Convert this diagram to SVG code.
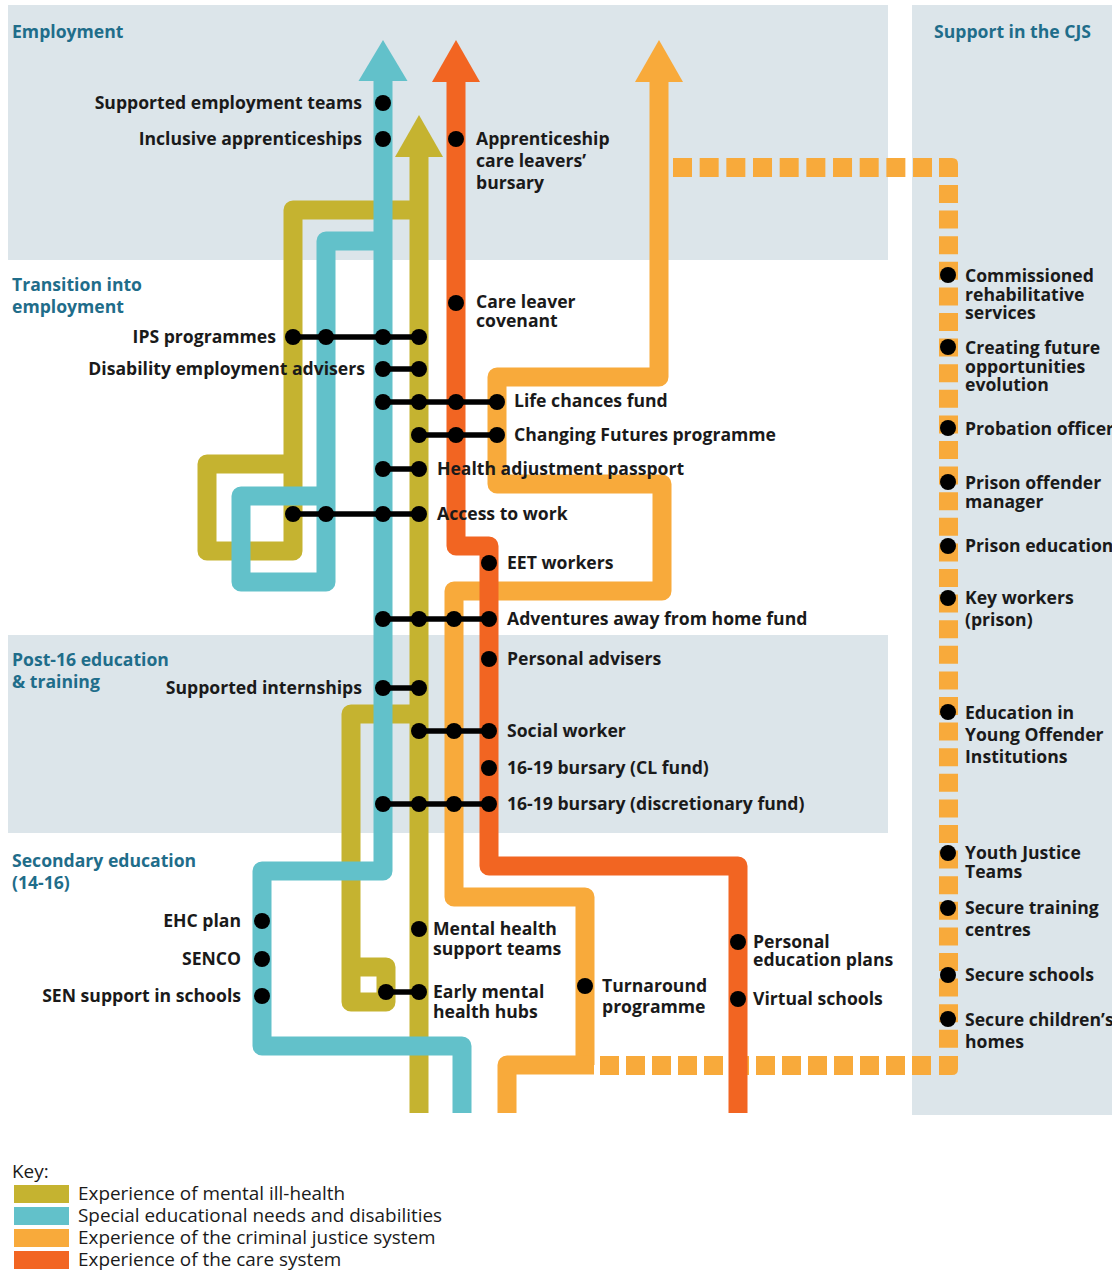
<svg xmlns="http://www.w3.org/2000/svg" width="1112" height="1270" viewBox="0 0 1112 1270">
<style>
  .band{fill:#dce5ea}
  .route{fill:none;stroke-width:19;stroke-linejoin:round;stroke-linecap:butt}
  .mh{stroke:#c5b330}
  .sen{stroke:#62c1ca}
  .cjs{stroke:#f8aa3b}
  .care{stroke:#f26522}
  .mhf{fill:#c5b330}
  .senf{fill:#62c1ca}
  .cjsf{fill:#f8aa3b}
  .caref{fill:#f26522}
  .bar{stroke:#000;stroke-width:5.5;stroke-linecap:round}
  .dot{fill:#000}
  text{font-family:"Open Sans","Liberation Sans",sans-serif;font-size:17.6px;font-weight:700;fill:#1a1a1a}
  .ttl{fill:#1f6d8a}
  .key{font-weight:400;font-size:18.9px}
</style>

<!-- stage bands -->
<g id="bands">
  <rect class="band" x="8" y="5" width="880" height="255"/>
  <rect class="band" x="8" y="635" width="880" height="198"/>
  <rect class="band" x="912" y="5" width="200" height="1110"/>
</g>

<!-- routes -->
<g id="connectors">
  <!-- mental ill-health -->
  <path class="route mh" d="M419,157 V1113"/>
  <path class="route mh" d="M419,210 H293 V551 H207 V464 H293"/>
  <path class="route mh" d="M419,714 H351 V1002 H386 V967 H351"/>
  <polygon class="mhf" points="419,115 443,157 395,157"/>
  <!-- special educational needs -->
  <path class="route sen" d="M383,80 V871 H262 V1046 H462 V1113"/>
  <path class="route sen" d="M383,241 H326 V582 H241 V496 H326"/>
  <polygon class="senf" points="383,40 407.5,81 358.5,81"/>
  <!-- criminal justice system -->
  <path class="route cjs" d="M659,80 V377 H497 V484 H662 V591 H454 V897 H585 V1065"/>
  <path class="route cjs" d="M507,1113 V1065 H594"/>
  <polygon class="cjsf" points="659,40 683,82 635,82"/>
  <g id="cjs-dotted" class="cjsf">
    <line x1="673" y1="167.5" x2="932" y2="167.5" stroke="#f8aa3b" stroke-width="19" stroke-dasharray="19 7.67"/>
    <path d="M939,158 H952 Q958,158 958,164 V177 H939 Z"/>
    <line x1="948.5" y1="185" x2="948.5" y2="1048" stroke="#f8aa3b" stroke-width="19" stroke-dasharray="18 7.6"/>
    <path d="M939,1056 H958 V1069 Q958,1075 952,1075 H939 Z"/>
    <line x1="600" y1="1065.5" x2="932" y2="1065.5" stroke="#f8aa3b" stroke-width="19" stroke-dasharray="19 7"/>
  </g>
  <!-- care system -->
  <path class="route care" d="M456,80 V546 H489 V866 H738 V1113"/>
  <polygon class="caref" points="456,40 480,82 432,82"/>

  <!-- interchange bars -->
  <line class="bar" x1="293" y1="337" x2="419" y2="337"/>
  <line class="bar" x1="383" y1="369" x2="419" y2="369"/>
  <line class="bar" x1="383" y1="402" x2="497" y2="402"/>
  <line class="bar" x1="419" y1="435" x2="497" y2="435"/>
  <line class="bar" x1="383" y1="469" x2="419" y2="469"/>
  <line class="bar" x1="293" y1="514" x2="419" y2="514"/>
  <line class="bar" x1="383" y1="619" x2="489" y2="619"/>
  <line class="bar" x1="383" y1="688" x2="419" y2="688"/>
  <line class="bar" x1="419" y1="731" x2="489" y2="731"/>
  <line class="bar" x1="383" y1="804" x2="489" y2="804"/>
  <line class="bar" x1="386" y1="992" x2="419" y2="992"/>
</g>

<!-- stage titles -->
<g id="titles">
  <text class="ttl" x="12" y="38">Employment</text>
  <text class="ttl" x="12" y="291">Transition into<tspan x="12" dy="22">employment</tspan></text>
  <text class="ttl" x="12" y="666">Post-16 education<tspan x="12" dy="22">&amp; training</tspan></text>
  <text class="ttl" x="12" y="867">Secondary education<tspan x="12" dy="22">(14-16)</tspan></text>
  <text class="ttl" x="934" y="38">Support in the CJS</text>
</g>

<!-- stops -->
<g id="supported-employment-teams"><circle class="dot" cx="383" cy="103" r="8"/><text x="362" y="109" text-anchor="end">Supported employment teams</text></g>
<g id="inclusive-apprenticeships"><circle class="dot" cx="383" cy="139" r="8"/><text x="362" y="145" text-anchor="end">Inclusive apprenticeships</text></g>
<g id="apprenticeship-bursary"><circle class="dot" cx="456" cy="139" r="8"/><text x="476" y="145">Apprenticeship<tspan x="476" dy="22">care leavers’</tspan><tspan x="476" dy="22">bursary</tspan></text></g>
<g id="care-leaver-covenant"><circle class="dot" cx="456" cy="303" r="8"/><text x="476" y="308">Care leaver<tspan x="476" dy="18.5">covenant</tspan></text></g>
<g id="ips-programmes"><circle class="dot" cx="293" cy="337" r="8"/><circle class="dot" cx="326" cy="337" r="8"/><circle class="dot" cx="383" cy="337" r="8"/><circle class="dot" cx="419" cy="337" r="8"/><text x="276" y="343" text-anchor="end">IPS programmes</text></g>
<g id="disability-employment-advisers"><circle class="dot" cx="383" cy="369" r="8"/><circle class="dot" cx="419" cy="369" r="8"/><text x="365" y="375" text-anchor="end">Disability employment advisers</text></g>
<g id="life-chances-fund"><circle class="dot" cx="383" cy="402" r="8"/><circle class="dot" cx="419" cy="402" r="8"/><circle class="dot" cx="456" cy="402" r="8"/><circle class="dot" cx="497" cy="402" r="8"/><text x="514" y="407">Life chances fund</text></g>
<g id="changing-futures"><circle class="dot" cx="419" cy="435" r="8"/><circle class="dot" cx="456" cy="435" r="8"/><circle class="dot" cx="497" cy="435" r="8"/><text x="514" y="441">Changing Futures programme</text></g>
<g id="health-adjustment-passport"><circle class="dot" cx="383" cy="469" r="8"/><circle class="dot" cx="419" cy="469" r="8"/><text x="437" y="475">Health adjustment passport</text></g>
<g id="access-to-work"><circle class="dot" cx="293" cy="514" r="8"/><circle class="dot" cx="326" cy="514" r="8"/><circle class="dot" cx="383" cy="514" r="8"/><circle class="dot" cx="419" cy="514" r="8"/><text x="437" y="520">Access to work</text></g>
<g id="eet-workers"><circle class="dot" cx="489" cy="563" r="8"/><text x="507" y="569">EET workers</text></g>
<g id="adventures-fund"><circle class="dot" cx="383" cy="619" r="8"/><circle class="dot" cx="419" cy="619" r="8"/><circle class="dot" cx="454" cy="619" r="8"/><circle class="dot" cx="489" cy="619" r="8"/><text x="507" y="625">Adventures away from home fund</text></g>
<g id="personal-advisers"><circle class="dot" cx="489" cy="659" r="8"/><text x="507" y="665">Personal advisers</text></g>
<g id="supported-internships"><circle class="dot" cx="383" cy="688" r="8"/><circle class="dot" cx="419" cy="688" r="8"/><text x="362" y="694" text-anchor="end">Supported internships</text></g>
<g id="social-worker"><circle class="dot" cx="419" cy="731" r="8"/><circle class="dot" cx="454" cy="731" r="8"/><circle class="dot" cx="489" cy="731" r="8"/><text x="507" y="737">Social worker</text></g>
<g id="bursary-cl-fund"><circle class="dot" cx="489" cy="768" r="8"/><text x="507" y="774">16-19 bursary (CL fund)</text></g>
<g id="bursary-discretionary"><circle class="dot" cx="383" cy="804" r="8"/><circle class="dot" cx="419" cy="804" r="8"/><circle class="dot" cx="454" cy="804" r="8"/><circle class="dot" cx="489" cy="804" r="8"/><text x="507" y="810">16-19 bursary (discretionary fund)</text></g>
<g id="ehc-plan"><circle class="dot" cx="262" cy="921" r="8"/><text x="241" y="927" text-anchor="end">EHC plan</text></g>
<g id="senco"><circle class="dot" cx="262" cy="959" r="8"/><text x="241" y="965" text-anchor="end">SENCO</text></g>
<g id="sen-support"><circle class="dot" cx="262" cy="996" r="8"/><text x="241" y="1002" text-anchor="end">SEN support in schools</text></g>
<g id="mental-health-support-teams"><circle class="dot" cx="419" cy="929" r="8"/><text x="433" y="935">Mental health<tspan x="433" dy="20">support teams</tspan></text></g>
<g id="early-mental-health-hubs"><circle class="dot" cx="386" cy="992" r="8"/><circle class="dot" cx="419" cy="992" r="8"/><text x="433" y="998">Early mental<tspan x="433" dy="20">health hubs</tspan></text></g>
<g id="turnaround"><circle class="dot" cx="585" cy="986" r="8"/><text x="602" y="992">Turnaround<tspan x="602" dy="21">programme</tspan></text></g>
<g id="personal-education-plans"><circle class="dot" cx="738" cy="942" r="8"/><text x="753" y="948">Personal<tspan x="753" dy="17.5">education plans</tspan></text></g>
<g id="virtual-schools"><circle class="dot" cx="738" cy="999" r="8"/><text x="753" y="1005">Virtual schools</text></g>

<g id="commissioned-rehab"><circle class="dot" cx="948" cy="275" r="8"/><text x="965" y="282">Commissioned<tspan x="965" dy="18.5">rehabilitative</tspan><tspan x="965" dy="18.5">services</tspan></text></g>
<g id="creating-future-opportunities"><circle class="dot" cx="948" cy="347" r="8"/><text x="965" y="354">Creating future<tspan x="965" dy="18.5">opportunities</tspan><tspan x="965" dy="18.5">evolution</tspan></text></g>
<g id="probation-officer"><circle class="dot" cx="948" cy="428" r="8"/><text x="965" y="435">Probation officer</text></g>
<g id="prison-offender-manager"><circle class="dot" cx="948" cy="482" r="8"/><text x="965" y="489">Prison offender<tspan x="965" dy="19">manager</tspan></text></g>
<g id="prison-education"><circle class="dot" cx="948" cy="546" r="8"/><text x="965" y="552">Prison education</text></g>
<g id="key-workers"><circle class="dot" cx="948" cy="598" r="8"/><text x="965" y="604">Key workers<tspan x="965" dy="22">(prison)</tspan></text></g>
<g id="education-yoi"><circle class="dot" cx="948" cy="712" r="8"/><text x="965" y="719">Education in<tspan x="965" dy="22">Young Offender</tspan><tspan x="965" dy="22">Institutions</tspan></text></g>
<g id="youth-justice-teams"><circle class="dot" cx="948" cy="853" r="8"/><text x="965" y="859">Youth Justice<tspan x="965" dy="19">Teams</tspan></text></g>
<g id="secure-training-centres"><circle class="dot" cx="948" cy="908" r="8"/><text x="965" y="914">Secure training<tspan x="965" dy="22">centres</tspan></text></g>
<g id="secure-schools"><circle class="dot" cx="948" cy="975" r="8"/><text x="965" y="981">Secure schools</text></g>
<g id="secure-childrens-homes"><circle class="dot" cx="948" cy="1019" r="8"/><text x="965" y="1026">Secure children’s<tspan x="965" dy="22">homes</tspan></text></g>

<!-- key -->
<g id="key">
  <text class="key" x="12" y="1178">Key:</text>
  <rect class="mhf" x="14" y="1185" width="55" height="18"/>
  <rect class="senf" x="14" y="1207" width="55" height="18"/>
  <rect class="cjsf" x="14" y="1229" width="55" height="18"/>
  <rect class="caref" x="14" y="1251" width="55" height="18"/>
  <text class="key" x="78" y="1200">Experience of mental ill-health</text>
  <text class="key" x="78" y="1222">Special educational needs and disabilities</text>
  <text class="key" x="78" y="1244">Experience of the criminal justice system</text>
  <text class="key" x="78" y="1266">Experience of the care system</text>
</g>
</svg>
